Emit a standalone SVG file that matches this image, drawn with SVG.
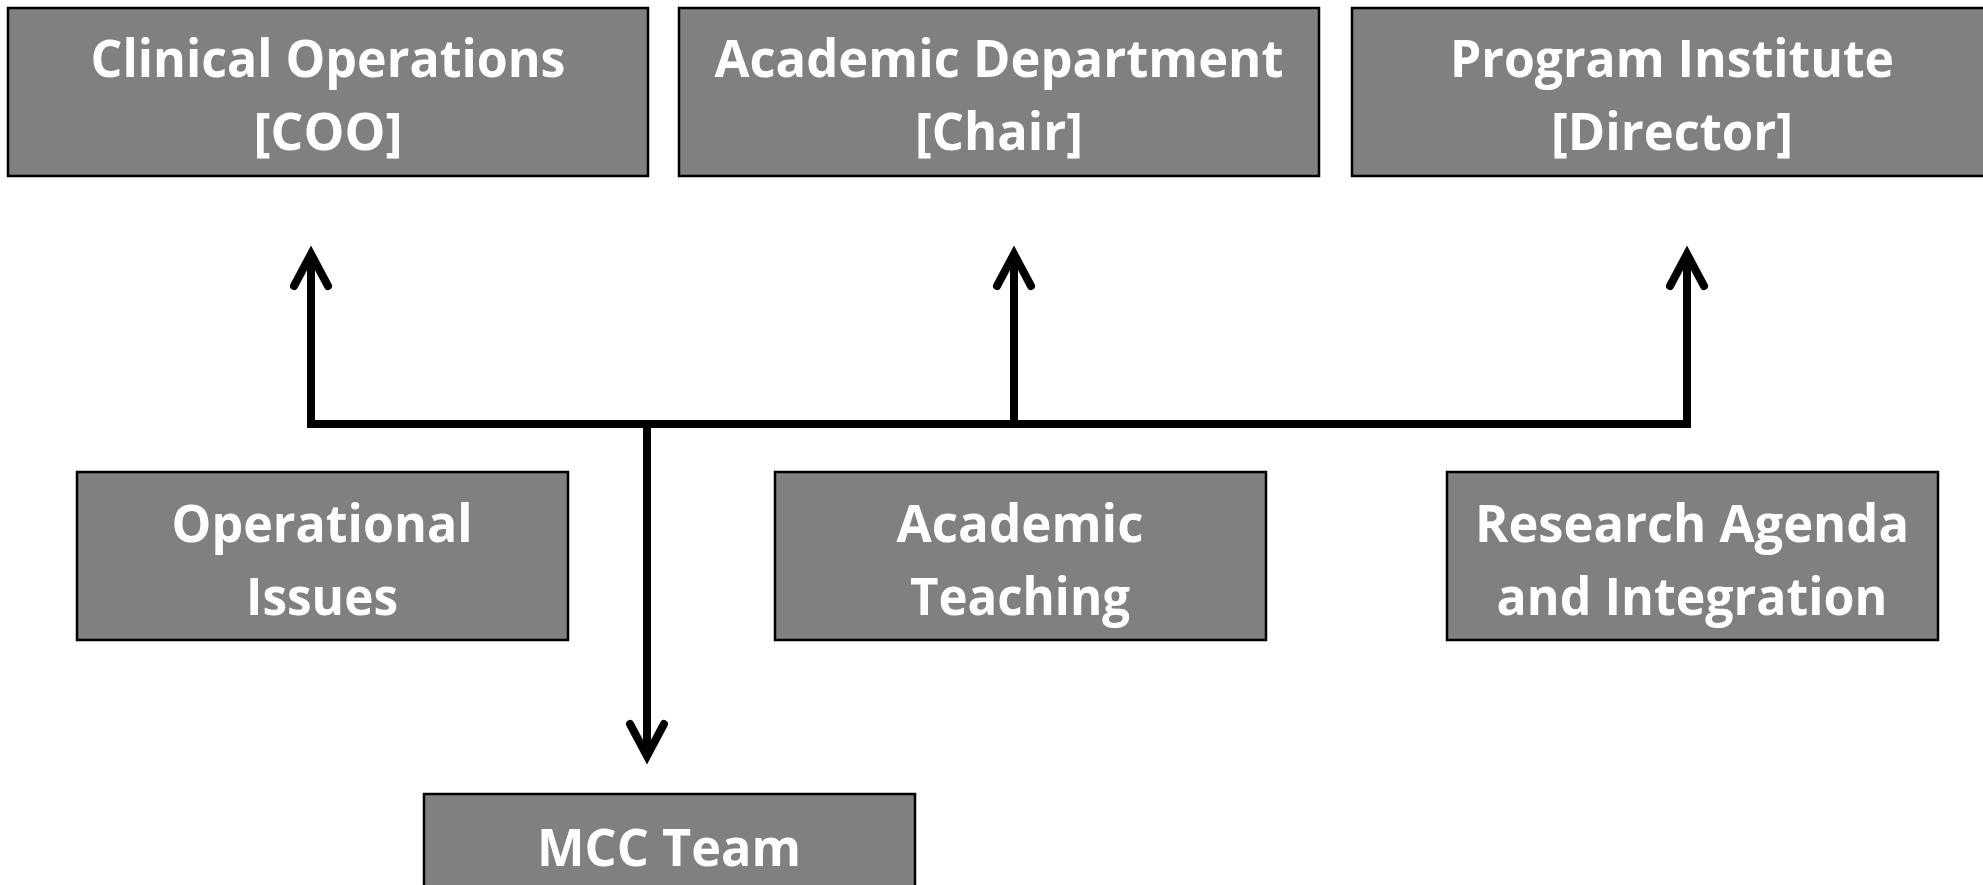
<svg xmlns="http://www.w3.org/2000/svg" width="1983" height="885" viewBox="0 0 1983 885">
<style>
.box{fill:#808080;stroke:#000;stroke-width:2.5}
.t{font-family:"Open Sans","Liberation Sans",sans-serif;font-weight:bold;font-size:52px;fill:#fff;text-anchor:middle}
.ln{fill:none;stroke:#000;stroke-width:8}
.ah{fill:none;stroke:#000;stroke-width:8;stroke-linecap:round;stroke-linejoin:miter}
</style>
<rect width="1983" height="885" fill="#fff"/>
<g id="connectors">
<path class="ln" d="M311,424 H1687"/>
<path class="ln" d="M311,428 V256"/>
<path class="ln" d="M1014,424 V256"/>
<path class="ln" d="M1687,428 V256"/>
<path class="ln" d="M647,424 V752"/>
<path class="ah" d="M294,286 L311,254 L328,286"/>
<path class="ah" d="M997,286 L1014,254 L1031,286"/>
<path class="ah" d="M1670,286 L1687,254 L1704,286"/>
<path class="ah" d="M630,724 L647,756 L664,724"/>
</g>
<g id="clinical-operations">
<rect class="box" x="8" y="8" width="640" height="168"/>
<text class="t" x="328" y="77" textLength="475" lengthAdjust="spacingAndGlyphs">Clinical Operations</text>
<text class="t" x="328" y="150" textLength="149" lengthAdjust="spacingAndGlyphs">[COO]</text>
</g>
<g id="academic-department">
<rect class="box" x="679" y="8" width="640" height="168"/>
<text class="t" x="999" y="77" textLength="569" lengthAdjust="spacingAndGlyphs">Academic Department</text>
<text class="t" x="999" y="150" textLength="168" lengthAdjust="spacingAndGlyphs">[Chair]</text>
</g>
<g id="program-institute">
<rect class="box" x="1352" y="8" width="640" height="168"/>
<text class="t" x="1672" y="77" textLength="444" lengthAdjust="spacingAndGlyphs">Program Institute</text>
<text class="t" x="1672" y="150" textLength="242" lengthAdjust="spacingAndGlyphs">[Director]</text>
</g>
<g id="operational-issues">
<rect class="box" x="77" y="472" width="491" height="168"/>
<text class="t" x="322" y="542" textLength="301" lengthAdjust="spacingAndGlyphs">Operational</text>
<text class="t" x="322" y="615" textLength="152" lengthAdjust="spacingAndGlyphs">Issues</text>
</g>
<g id="academic-teaching">
<rect class="box" x="775" y="472" width="491" height="168"/>
<text class="t" x="1020" y="542" textLength="247" lengthAdjust="spacingAndGlyphs">Academic</text>
<text class="t" x="1020" y="615" textLength="220" lengthAdjust="spacingAndGlyphs">Teaching</text>
</g>
<g id="research-agenda">
<rect class="box" x="1447" y="472" width="491" height="168"/>
<text class="t" x="1692" y="542" textLength="434" lengthAdjust="spacingAndGlyphs">Research Agenda</text>
<text class="t" x="1692" y="615" textLength="391" lengthAdjust="spacingAndGlyphs">and Integration</text>
</g>
<g id="mcc-team">
<rect class="box" x="424" y="794" width="491" height="168"/>
<text class="t" x="669" y="866" textLength="264" lengthAdjust="spacingAndGlyphs">MCC Team</text>
</g>
</svg>
